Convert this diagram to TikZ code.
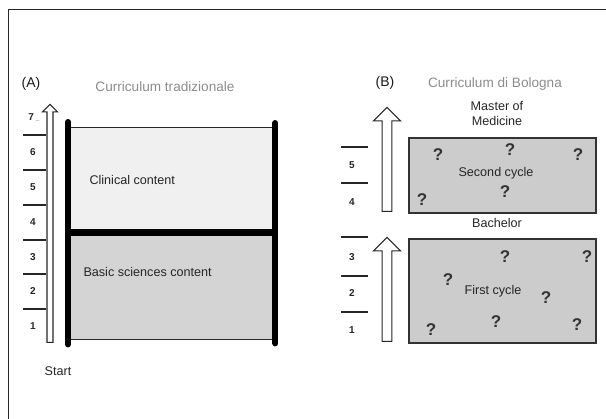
\documentclass[tikz,border=0pt]{standalone}
\usepackage{fontspec}
\setmainfont{Liberation Sans}
\usetikzlibrary{shapes.arrows,positioning}

\begin{document}
\begin{tikzpicture}[
    x=1pt, y=-1pt,
    heading/.style={font=\fontsize{13.6}{15}\selectfont, text=black!45},
    panel/.style={font=\fontsize{14}{15}\selectfont, text=black!90},
    lbl/.style={font=\fontsize{12.6}{15}\selectfont, text=black!85, align=center},
    num/.style={font=\bfseries\fontsize{10}{11}\selectfont, text=black!85},
    qm/.style={font=\bfseries\fontsize{17}{18}\selectfont, text=black!80},
    tick/.style={line width=1.3pt, black!85},
    bar/.style={line width=6pt, line cap=round},
    years/.style={single arrow, draw=black!85, line width=1.2pt, fill=white, shape border rotate=90, single arrow tip angle=90, anchor=tail},
    cycle/.style={rectangle, draw=black!80, line width=1.6pt, fill=black!20, anchor=north west, inner sep=0pt}
]
\useasboundingbox (0,0) rectangle (606,419);

% Frame
\draw[line width=1pt, black!85] (8,419) -- (8,10) -- (606,10);

% (A) Curriculum tradizionale
\node[panel] (labA) at (31,84) {(A)};
\node[heading] (titleA) at (165,87) {Curriculum tradizionale};

\node[years, minimum height=238, minimum width=15, inner sep=2.3pt, single arrow head extend=4.5pt] (arrA) at (50,343) {};

\node[rectangle, fill=black!6, anchor=north west, minimum width=207, minimum height=105, inner sep=0pt] (clinical) at (68,127) {};
\node[rectangle, fill=black!17, anchor=north west, minimum width=207, minimum height=107, inner sep=0pt] (basic) at (68,232) {};
\draw[black!85] (clinical.north west) -- (clinical.north east);
\draw[black!85] (basic.south west) -- (basic.south east);
\draw[line width=7pt] (clinical.south west) -- (clinical.south east);
\draw[bar] ([yshift=5pt]clinical.north west) -- ([yshift=-5pt]basic.south west);
\draw[bar] ([yshift=4pt]clinical.north east) -- ([yshift=-4pt]basic.south east);

\node[lbl, anchor=west] (clin) at (86,180) {Clinical content};
\node[lbl, anchor=west] (bas) at (80,272) {Basic sciences content};
\node[lbl] (start) at (58,371) {Start};

% year ticks
\foreach \y in {135,170,205,240,274,309}
  \draw[tick] (23,\y) -- (46,\y);
\foreach \n/\y in {1/326,2/291,3/257,4/222,5/187,6/152}
  \node[num] (yA\n) at (33,\y) {\n};
\node[num] (yA7) at (34,118) {7\,\raisebox{-1pt}{\tiny\mdseries...}};

% (B) Curriculum di Bologna
\node[panel] (labB) at (385,83) {(B)};
\node[heading] (titleB) at (495,84) {Curriculum di Bologna};

\node[cycle, minimum width=187, minimum height=75] (second) at (408,137) {};
\node[cycle, minimum width=187, minimum height=104] (first) at (408,238) {};

\node[years, minimum height=104, minimum width=27, inner sep=4.2pt, single arrow head extend=8.5pt] (arrB2) at (387,212) {};
\node[years, minimum height=104, minimum width=27, inner sep=4.2pt, single arrow head extend=8.5pt] (arrB1) at (387,342) {};

\node[lbl] (master) at (497,114) {Master of\\Medicine};
\node[lbl] (bachelor) at (497,223) {Bachelor};
\node[lbl] (sec) at (496,173) {Second cycle};
\node[lbl] (fir) at (493,291) {First cycle};

% question marks
\foreach \x/\y in {438/155,510/150,578/155,505/192,422/200,505/257,587/257,448/280,546/298,496/322,431/330,577/325}
  \node[qm] at (\x,\y) {?};

\foreach \y in {147,183,237,276,312}
  \draw[tick] (341,\y) -- (368,\y);
\foreach \n/\y in {1/330,2/293,3/257,4/202,5/165}
  \node[num] (yB\n) at (352,\y) {\n};

\end{tikzpicture}
\end{document}
